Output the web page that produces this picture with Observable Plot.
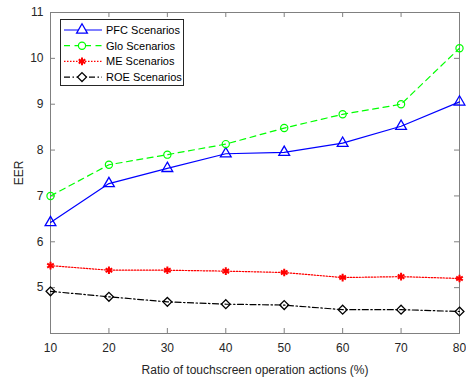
<!DOCTYPE html>
<html><head><meta charset="utf-8">
<script src="https://cdn.jsdelivr.net/npm/d3@7"></script>
<script src="https://cdn.jsdelivr.net/npm/@observablehq/plot@0.6"></script>
<style>
body{margin:0;background:#fff;font-family:"Liberation Sans",Arial,sans-serif;}
#wrap{position:relative;width:466px;height:378px;}
#legend{position:absolute;left:0;top:0;}
</style></head><body>
<div id="wrap"></div>
<script>
const ratios = [10, 20, 30, 40, 50, 60, 70, 80];
const pfc = [6.42, 7.27, 7.60, 7.92, 7.95, 8.15, 8.52, 9.05];
const glo = [7.00, 7.68, 7.90, 8.13, 8.48, 8.78, 9.00, 10.22];
const me  = [5.48, 5.38, 5.38, 5.36, 5.33, 5.22, 5.24, 5.20];
const roe = [4.92, 4.80, 4.69, 4.64, 4.62, 4.52, 4.52, 4.48];
const seriesNames = ["PFC Scenarios", "Glo Scenarios", "ME Scenarios", "ROE Scenarios"];
const xTicks = [10, 20, 30, 40, 50, 60, 70, 80];
const yTicks = [5, 6, 7, 8, 9, 10, 11];

const styles = [
  {color:"#0000ff", dash:null, symbol:"triangle", sw:1.3, r:4},
  {color:"#00ff00", dash:"6,4.5", symbol:"circle", sw:1.2, r:3.6},
  {color:"#ff0000", dash:"1.5,1.5", symbol:"asterisk", sw:2, r:3.6},
  {color:"#000000", dash:"6,2.5,1.5,2.5", symbol:"diamond2", sw:1.3, r:4}
];
const vals = [pfc, glo, me, roe];

const W = 466, H = 378, mL = 50, mR = 7, mT = 12, mB = 45;
const ph = H - mT - mB, pw = W - mL - mR;
const grey = "#808080";

const marks = [];
vals.forEach((v, i) => {
  const data = ratios.map((x, j) => ({x, y: v[j]}));
  const s = styles[i];
  marks.push(Plot.line(data, {x:"x", y:"y", stroke:s.color, strokeWidth:1.2, strokeDasharray:s.dash}));
  marks.push(Plot.dot(data, {x:"x", y:"y", stroke:s.color, fill:"none", symbol:s.symbol, r:s.r, strokeWidth:s.sw}));
});

const chart = Plot.plot({
  width: W, height: H,
  marginLeft: mL, marginRight: mR, marginTop: mT, marginBottom: mB,
  style: {fontFamily: '"Liberation Sans", Arial, sans-serif', fontSize: "11px", color: "#262626", background: "#fff"},
  x: {domain: [10, 80], ticks: xTicks},
  y: {domain: [4, 11], ticks: yTicks},
  marks: [
    Plot.frame({stroke: grey, strokeWidth: 1}),
    Plot.tickX(xTicks, {x: d => d, stroke: grey, insetTop: ph - 5}),
    Plot.tickX(xTicks, {x: d => d, stroke: grey, insetBottom: ph - 5}),
    Plot.tickY(yTicks, {y: d => d, stroke: grey, insetRight: pw - 5}),
    Plot.tickY(yTicks, {y: d => d, stroke: grey, insetLeft: pw - 5}),
    Plot.axisX({ticks: xTicks, tickFormat: "d", tickSize: 0, tickPadding: 10, fontSize: 12, label: "Ratio of touchscreen operation actions (%)", labelAnchor: "center", labelArrow: "none", labelOffset: 40, fill: "#262626"}),
    Plot.axisY({ticks: yTicks, tickFormat: "d", tickSize: 0, tickPadding: 7, fontSize: 12, label: "EER", labelAnchor: "center", labelArrow: "none", labelOffset: 36, fill: "#262626"}),
    ...marks
  ]
});
document.getElementById("wrap").appendChild(chart);

// legend overlay
const lg = d3.select("#wrap").append("svg").attr("id","legend").attr("width", W).attr("height", H);
const bx = 60, by = 19, bw = 123, bh = 66;
lg.append("rect").attr("x", bx+0.5).attr("y", by+0.5).attr("width", bw).attr("height", bh)
  .attr("fill", "#fff").attr("stroke", "#262626").attr("stroke-width", 1);
const symMap = {triangle: d3.symbolTriangle, circle: d3.symbolCircle, asterisk: d3.symbolAsterisk, diamond2: d3.symbolDiamond2};
seriesNames.forEach((name, i) => {
  const s = styles[i];
  const cy = by + 11 + i * 15.7;
  lg.append("line").attr("x1", bx + 4).attr("x2", bx + 42).attr("y1", cy).attr("y2", cy)
    .attr("stroke", s.color).attr("stroke-width", 1.2).attr("stroke-dasharray", s.dash);
  lg.append("path").attr("transform", `translate(${bx + 22},${cy})`)
    .attr("d", d3.symbol(symMap[s.symbol], Math.PI * s.r * s.r)())
    .attr("fill", "#fff").attr("stroke", s.color).attr("stroke-width", s.sw);
  lg.append("text").attr("x", bx + 46).attr("y", cy).attr("dy", "0.35em")
    .attr("font-size", 11).attr("fill", "#000").text(name);
});
</script>
</body></html>
